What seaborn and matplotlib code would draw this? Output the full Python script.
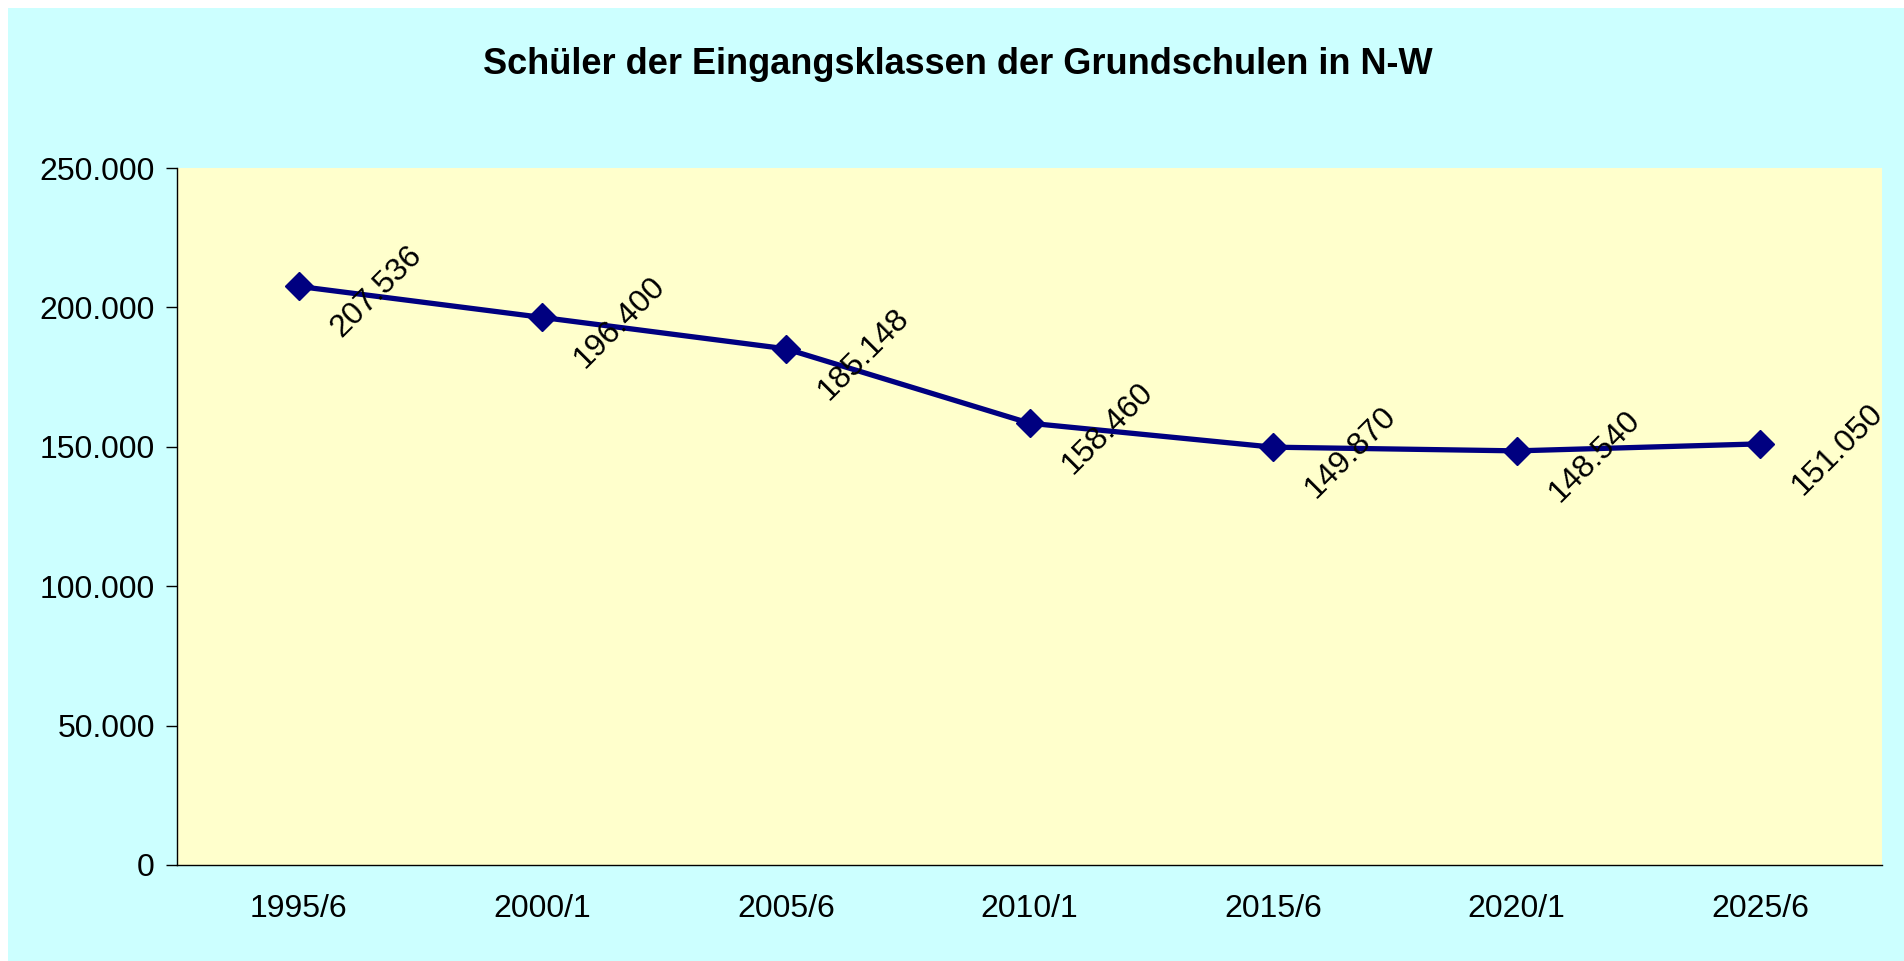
import matplotlib

matplotlib.use("Agg")

import matplotlib.pyplot as plt
import matplotlib.ticker as mticker
import pandas as pd
import seaborn as sns
from matplotlib.patches import Rectangle

periods = ["1995/6", "2000/1", "2005/6", "2010/1", "2015/6", "2020/1", "2025/6"]
pupils = [207536, 196400, 185148, 158460, 149870, 148540, 151050]
title = "Schüler der Eingangsklassen der Grundschulen in N-W"

NAVY = "#000080"
CYAN = "#CCFFFF"
CREAM = "#FFFFCC"
FS = 23


def _de_thousands(v, pos=None):
    return f"{int(round(v)):,}".replace(",", ".")


df = pd.DataFrame({"Zeitraum": periods, "Schueler": pupils})

sns.set_style("white")
plt.rcParams["font.family"] = ["Liberation Sans", "DejaVu Sans"]
plt.rcParams["text.color"] = "black"
plt.rcParams["xtick.color"] = "black"
plt.rcParams["ytick.color"] = "black"

W, H = 1904, 961
fig = plt.figure(figsize=(W / 100, H / 100), dpi=100, facecolor="white")
fig.patches.append(
    Rectangle((8 / W, 0), 1 - 8 / W, 1 - 8 / H, transform=fig.transFigure,
              facecolor=CYAN, edgecolor="none", zorder=-10)
)

ax = fig.add_axes([177 / W, 96 / H, 1705 / W, 697 / H])
ax.set_facecolor(CREAM)

sns.lineplot(data=df, x="Zeitraum", y="Schueler", ax=ax, color=NAVY,
             linewidth=3.8, marker="D", markersize=14, markeredgecolor=NAVY,
             markeredgewidth=1, sort=False, zorder=3)

for i, v in enumerate(pupils):
    ax.annotate(_de_thousands(v), xy=(i, v), xytext=(56, -4), textcoords="offset points",
                rotation=45, rotation_mode="anchor", ha="center", va="center",
                fontsize=FS, color="black", zorder=4)

ax.set_xlim(-0.5, len(periods) - 0.5)
ax.set_ylim(0, 250000)
ax.yaxis.set_major_locator(mticker.MultipleLocator(50000))
ax.yaxis.set_major_formatter(mticker.FuncFormatter(_de_thousands))
# inner gridlines only (none on the axis line or at the top edge)
ax.yaxis.set_minor_locator(mticker.FixedLocator(range(50000, 250000, 50000)))
ax.tick_params(axis="y", which="minor", length=0)
ax.yaxis.grid(True, which="minor", color="black", linewidth=1)
ax.yaxis.grid(False, which="major")
ax.xaxis.grid(False)

ax.set_xticks(range(len(periods)))
ax.set_xticklabels(periods)
ax.set_xticks([i - 0.5 for i in range(len(periods) + 1)], minor=True)
ax.tick_params(axis="x", which="major", length=0, pad=21, labelsize=FS)
ax.tick_params(axis="x", which="minor", length=8, width=1, direction="out", color="black")
ax.tick_params(axis="y", which="major", length=8, width=1, direction="out", color="black",
               left=True, pad=8, labelsize=FS)

for side in ["top", "right"]:
    ax.spines[side].set_visible(False)
for side in ["left", "bottom"]:
    ax.spines[side].set_color("black")
    ax.spines[side].set_linewidth(1)

ax.set_xlabel("")
ax.set_ylabel("")

fig.text(958 / W, 1 - 65 / H, title, ha="center", va="center", fontsize=26,
         fontweight="bold", color="black")

fig.savefig("out.png", dpi=100, facecolor="white")
